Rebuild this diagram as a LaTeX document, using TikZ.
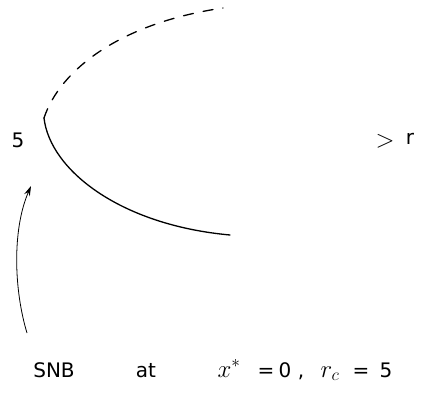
\documentclass[tikz,border=0pt]{standalone}
\usepackage{fontspec}
\setmainfont{DejaVu Sans}
\usetikzlibrary{arrows.meta}
\begin{document}
\begin{tikzpicture}[x=1pt,y=1pt,
  branch/.style={line width=1.3pt,line cap=round},
  unstable/.style={branch,dash pattern=on 10pt off 10pt},
  lbl/.style={font=\fontsize{20}{24}\selectfont,inner sep=0pt},
  captxt/.style={lbl,anchor=base},
  mathtxt/.style={captxt,font=\fontsize{27}{30}\selectfont},
  pointer/.style={line width=0.8pt,-{Stealth[length=10pt,width=6pt]}}]
\useasboundingbox (0,0) rectangle (424,400);
% nose of the saddle-node parabola
\coordinate (nose) at (44,282);
\coordinate (upend) at (223,392);
\coordinate (lowend) at (230,165);
\draw[unstable] (nose) .. controls (60,330) and (120,377) .. (upend);
\draw[branch] (nose) .. controls (50,230) and (120,175) .. (lowend);
% labels
\node[lbl] (five) at (18,260) {5};
\node[lbl,font=\fontsize{24}{28}\selectfont] (gt) at (385,259) {$>$};
\node[lbl] (r) at (410,261) {r};
% caption
\node[captxt] (snb) at (54,23) {SNB};
\node[captxt] (at) at (146,23) {at};
\node[mathtxt] (xs) at (229,23) {$x^{*}$};
\node[captxt] (eq1) at (266,23) {=};
\node[captxt] (zero) at (285,23) {0};
\node[captxt] (comma) at (301,23) {,};
\node[mathtxt] (rc) at (330,23) {$r_{c}$};
\node[captxt] (eq2) at (361,23) {=};
\node[captxt] (five2) at (386,23) {5};
% pointer from caption to the bifurcation point
\coordinate (tail) at (27,67);
\coordinate (head) at (31,214);
\draw[pointer] (tail) .. controls (14,110) and (12,170) .. (head);
\end{tikzpicture}
\end{document}
